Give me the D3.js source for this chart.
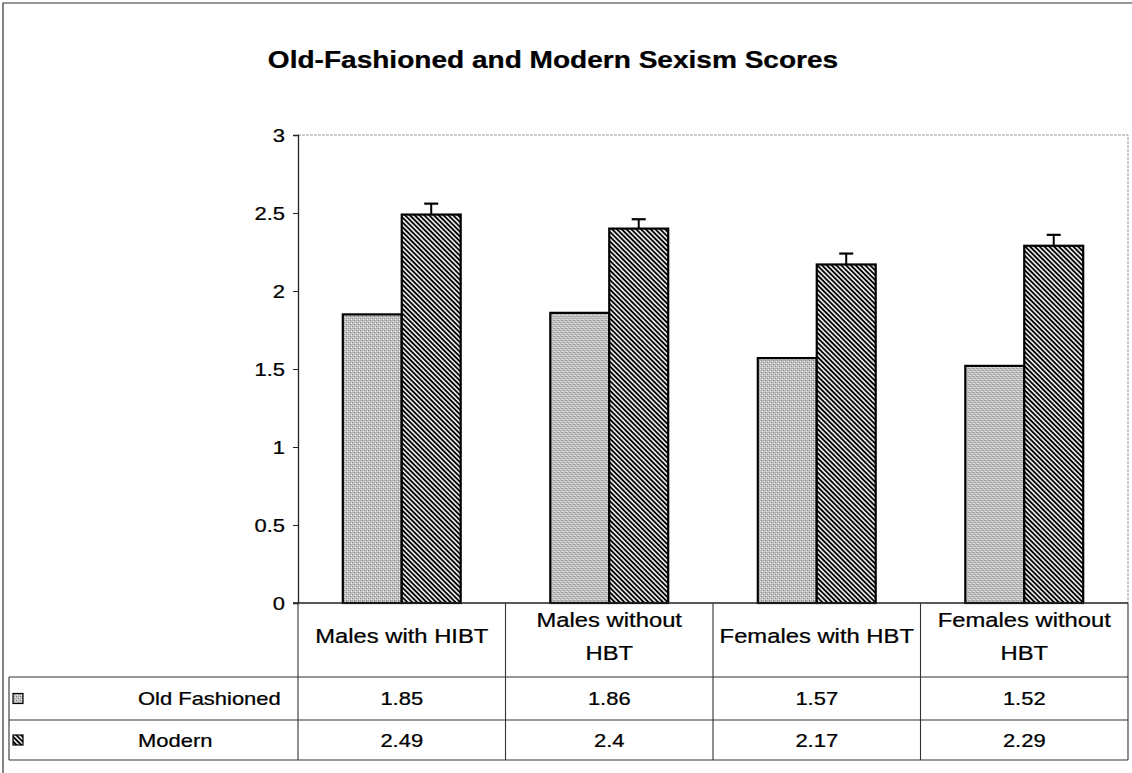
<!DOCTYPE html>
<meta charset="utf-8">
<style>
body { margin: 0; background: #fff; }
svg { display: block; background: #fff; }
text { font-family: "Liberation Sans", Arial, sans-serif; fill: #000; stroke: #000; stroke-width: 0.25px; }
</style>
<body>
<div id="chart"></div>
<script src="https://d3js.org/d3.v7.min.js"></script>
<script>
// data
var categories = ["Males with HIBT", "Males without\nHBT", "Females with HBT", "Females without\nHBT"];
var seriesNames = ["Old Fashioned", "Modern"];
var oldFashioned = [1.85, 1.86, 1.57, 1.52];
var modern = [2.49, 2.4, 2.17, 2.29];
var modernErr = [0.07, 0.06, 0.07, 0.07];
var yTicks = [0, 0.5, 1, 1.5, 2, 2.5, 3];
var title = "Old-Fashioned and Modern Sexism Scores";

var W = 1132, H = 773,
    plot = {left: 298, right: 1128, top: 135, bottom: 603},
    rowY = [603, 677, 720, 760],
    tableLeft = 9,
    SX = 1.22; // the scan is stretched sideways

var svg = d3.select("#chart").append("svg")
    .attr("width", W)
    .attr("height", H);

var defs = svg.append("defs");

// speckled grey fill for Old Fashioned
var speck = defs.append("pattern")
    .attr("id", "speck")
    .attr("patternUnits", "userSpaceOnUse")
    .attr("width", 4).attr("height", 4);
speck.append("rect").attr("width", 4).attr("height", 4).attr("fill", "#c4c4c4");
[[0, 0, "#7a7a7a"], [2, 2, "#8e8e8e"], [1, 3, "#f2f2f2"], [3, 1, "#e6e6e6"], [2, 0, "#a8a8a8"], [0, 2, "#b0b0b0"]].forEach(function(p) {
  speck.append("rect").attr("x", p[0]).attr("y", p[1]).attr("width", 1).attr("height", 1).attr("fill", p[2]);
});

// diagonal hatch for Modern
var hatch = defs.append("pattern")
    .attr("id", "hatch")
    .attr("patternUnits", "userSpaceOnUse")
    .attr("width", 8).attr("height", 3.4)
    .attr("patternTransform", "rotate(45)");
hatch.append("rect").attr("width", 8).attr("height", 3.4).attr("fill", "#fff");
hatch.append("line").attr("x1", 0).attr("x2", 8).attr("y1", 1.7).attr("y2", 1.7)
    .attr("stroke", "#000").attr("stroke-width", 1.9);

var fills = {"Old Fashioned": "url(#speck)", "Modern": "url(#hatch)"};

function stext(parent, x, y, str, anchor, size, weight) {
  return parent.append("text")
      .attr("transform", "translate(" + x + "," + y + ") scale(" + SX + ",1)")
      .attr("text-anchor", anchor)
      .style("font-size", size + "px")
      .style("font-weight", weight || "normal")
      .text(str);
}

// outer frame
svg.append("path")
    .attr("d", "M3," + H + "V3H" + W)
    .attr("fill", "none").attr("stroke", "#333").attr("stroke-width", 1.2);

// title
stext(svg, 553, 68, title, "middle", 23, "bold");

var x0 = d3.scaleBand().domain(categories).range([plot.left, plot.right]);
var x1 = d3.scaleBand().domain(seriesNames).range([0, x0.bandwidth()]).paddingOuter(0.76);
var y = d3.scaleLinear().domain([0, 3]).range([plot.bottom, plot.top]);

// plot area border (top, right)
svg.append("path")
    .attr("d", "M" + plot.left + "," + plot.top + "H" + plot.right + "V" + plot.bottom)
    .attr("fill", "none").attr("stroke", "#999").attr("stroke-width", 1)
    .attr("stroke-dasharray", "3,1");

// y axis
var yAxis = svg.append("g")
    .attr("transform", "translate(" + plot.left + ",0)")
    .call(d3.axisLeft(y).tickValues(yTicks).tickSize(5).tickFormat(""));
yAxis.select(".domain").attr("stroke", "#222").attr("stroke-width", 1.3);
yAxis.selectAll(".tick line").attr("stroke", "#222");
yTicks.forEach(function(t) {
  stext(svg, 285, y(t) + 7, d3.format("")(t), "end", 18);
});

// bars
var rows = categories.map(function(c, i) {
  return {cat: c, "Old Fashioned": oldFashioned[i], "Modern": modern[i], err: modernErr[i]};
});

var group = svg.selectAll(".grp")
    .data(rows)
    .enter().append("g")
    .attr("class", "grp")
    .attr("transform", function(d) { return "translate(" + x0(d.cat) + ",0)"; });

group.selectAll("rect")
    .data(function(d) { return seriesNames.map(function(s) { return {key: s, value: d[s]}; }); })
    .enter().append("rect")
    .attr("x", function(d) { return x1(d.key); })
    .attr("y", function(d) { return y(d.value); })
    .attr("width", x1.bandwidth())
    .attr("height", function(d) { return y(0) - y(d.value); })
    .attr("fill", function(d) { return fills[d.key]; })
    .attr("stroke", "#000")
    .attr("stroke-width", 2.2);

// error bars on Modern
var ex = function() { return x1("Modern") + x1.bandwidth() / 2; };
group.append("line")
    .attr("x1", ex).attr("x2", ex)
    .attr("y1", function(d) { return y(d.Modern); })
    .attr("y2", function(d) { return y(d.Modern + d.err); })
    .attr("stroke", "#000").attr("stroke-width", 2);
group.append("line")
    .attr("x1", function() { return ex() - 7; })
    .attr("x2", function() { return ex() + 7; })
    .attr("y1", function(d) { return y(d.Modern + d.err); })
    .attr("y2", function(d) { return y(d.Modern + d.err); })
    .attr("stroke", "#000").attr("stroke-width", 2.2);

// zero line
svg.append("line")
    .attr("x1", plot.left - 5).attr("x2", plot.right)
    .attr("y1", y(0)).attr("y2", y(0))
    .attr("stroke", "#222").attr("stroke-width", 1.3);

// data table
var grid = svg.append("g").attr("stroke", "#333").attr("stroke-width", 1.1);
rowY.slice(1).forEach(function(ry) {
  grid.append("line").attr("x1", tableLeft).attr("x2", plot.right).attr("y1", ry).attr("y2", ry);
});
grid.append("line").attr("x1", tableLeft).attr("x2", tableLeft).attr("y1", rowY[1]).attr("y2", rowY[3]);
categories.forEach(function(c) {
  grid.append("line").attr("x1", x0(c)).attr("x2", x0(c)).attr("y1", rowY[0]).attr("y2", rowY[3]);
});
grid.append("line").attr("x1", plot.right).attr("x2", plot.right).attr("y1", rowY[0]).attr("y2", rowY[3]);

// category headers
categories.forEach(function(c) {
  var lines = c.split("\n"), cx = x0(c) + x0.bandwidth() / 2;
  if (lines.length === 1) {
    stext(svg, cx, 643, lines[0], "middle", 19.5);
  } else {
    stext(svg, cx, 627, lines[0], "middle", 19.5);
    stext(svg, cx, 660, lines[1], "middle", 19.5);
  }
});

// value rows with legend keys
var seriesValues = [oldFashioned, modern];
seriesNames.forEach(function(s, si) {
  var mid = (rowY[si + 1] + rowY[si + 2]) / 2;
  svg.append("rect")
      .attr("x", 13).attr("y", mid - 5)
      .attr("width", 10).attr("height", 10)
      .attr("fill", fills[s]).attr("stroke", "#000").attr("stroke-width", 1.2);
  stext(svg, 138, mid + 6.5, s, "start", 18);
  seriesValues[si].forEach(function(v, i) {
    stext(svg, x0(categories[i]) + x0.bandwidth() / 2, mid + 6.5, String(v), "middle", 18);
  });
});
</script>
</body>
